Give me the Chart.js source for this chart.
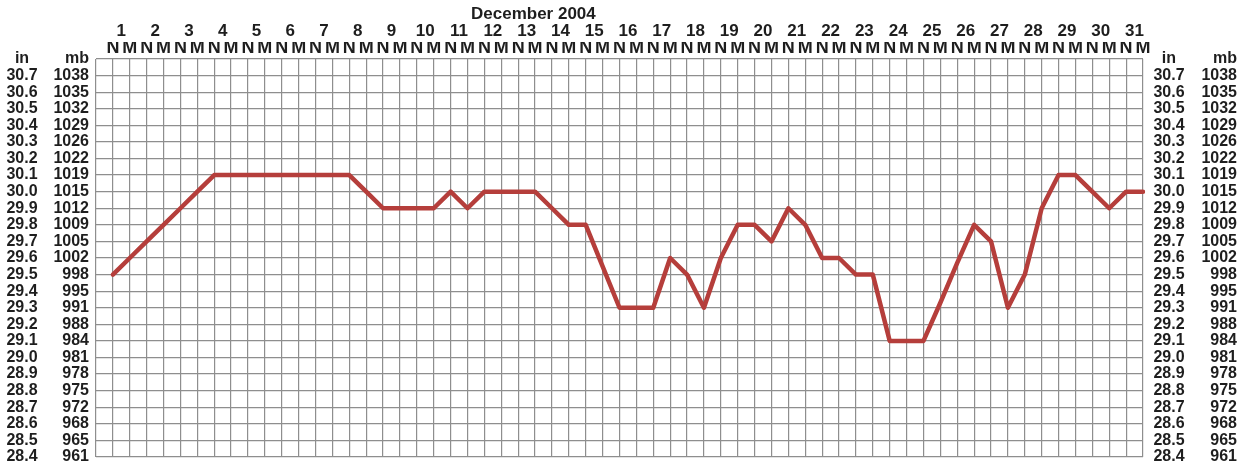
<!DOCTYPE html>
<html>
<head>
<meta charset="utf-8">
<title>Barometer December 2004</title>
<script src="https://cdn.jsdelivr.net/npm/chart.js@4/dist/chart.umd.min.js"></script>
<style>
  html, body { margin: 0; padding: 0; background: #fff; }
  #wrap { width: 1245px; height: 468px; position: relative; }
</style>
</head>
<body>
<div id="wrap"><canvas id="baroChart"></canvas></div>
<script>
// December 2004, readings taken at noon (N) and midnight (M)
const monthName = 'December 2004';
const days = [1, 2, 3, 4, 5, 6, 7, 8, 9, 10, 11, 12, 13, 14, 15, 16,
              17, 18, 19, 20, 21, 22, 23, 24, 25, 26, 27, 28, 29, 30, 31];

// pressure in inches, one value per half day (1 N, 1 M, 2 N, ...)
const pressure = [
  29.5, 29.6, 29.7, 29.8, 29.9, 30.0, 30.1, 30.1,   // 1 - 4
  30.1, 30.1, 30.1, 30.1, 30.1, 30.1, 30.1, 30.0,   // 5 - 8
  29.9, 29.9, 29.9, 29.9, 30.0, 29.9, 30.0, 30.0,   // 9 - 12
  30.0, 30.0, 29.9, 29.8, 29.8, 29.55, 29.3, 29.3,  // 13 - 16
  29.3, 29.6, 29.5, 29.3, 29.6, 29.8, 29.8, 29.7,   // 17 - 20
  29.9, 29.8, 29.6, 29.6, 29.5, 29.5, 29.1, 29.1,   // 21 - 24
  29.1, 29.33, 29.57, 29.8, 29.7, 29.3, 29.5, 29.9, // 25 - 28
  30.1, 30.1, 30.0, 29.9, 30.0, 30.0                // 29 - 31
];

// scale labels, bottom to top; the top line carries the unit
const inchLabels = ['28.4', '28.5', '28.6', '28.7', '28.8', '28.9', '29.0', '29.1',
                    '29.2', '29.3', '29.4', '29.5', '29.6', '29.7', '29.8', '29.9',
                    '30.0', '30.1', '30.2', '30.3', '30.4', '30.5', '30.6', '30.7', 'in'];
const mbLabels = ['961', '965', '968', '972', '975', '978', '981', '984',
                  '988', '991', '995', '998', '1002', '1005', '1009', '1012',
                  '1015', '1019', '1022', '1026', '1029', '1032', '1035', '1038', 'mb'];

const yMin = 28.4;
const yMax = 30.8;
const titleAt = 25.9; // half-day slot the month heading sits over

const halfDays = [''].concat(days.flatMap(() => ['N', 'M']));
const points = [null].concat(pressure);

const fontFamily = '"Liberation Sans", Arial, sans-serif';
Chart.defaults.font.family = fontFamily;
Chart.defaults.font.size = 16;
Chart.defaults.font.weight = 'bold';
Chart.defaults.color = '#1e1e1e';

const gridColor = '#8e8e8e';

function lookup(labels) {
  return (value) => labels[Math.round((value - yMin) * 10)];
}

function fixSize(prop, size) {
  return (scale) => {
    scale[prop] = size;
    scale.paddingTop = 0;
    scale.paddingBottom = 0;
  };
}

function sideAxis(position, weight, labels, crossAlign, padding, width) {
  return {
    axis: 'y',
    type: 'linear',
    position: position,
    weight: weight,
    min: yMin,
    max: yMax,
    grid: { display: false, drawTicks: false },
    border: { display: false },
    ticks: {
      stepSize: 0.1,
      autoSkip: false,
      crossAlign: crossAlign,
      padding: padding,
      callback: lookup(labels)
    },
    afterFit: fixSize('width', width)
  };
}

const monthHeading = {
  id: 'monthHeading',
  afterDraw(chart) {
    const { ctx, scales } = chart;
    ctx.save();
    ctx.font = 'bold 17px ' + fontFamily;
    ctx.fillStyle = '#1e1e1e';
    ctx.textAlign = 'center';
    ctx.textBaseline = 'middle';
    ctx.fillText(monthName, scales.x.getPixelForValue(titleAt), 14);
    ctx.restore();
  }
};

new Chart(document.getElementById('baroChart'), {
  type: 'line',
  data: {
    labels: halfDays,
    datasets: [{
      data: points,
      borderColor: '#b53e3b',
      borderWidth: 4.5,
      borderJoinStyle: 'round',
      borderCapStyle: 'round',
      pointRadius: 0,
      tension: 0,
      xAxisID: 'x',
      yAxisID: 'y'
    }]
  },
  options: {
    responsive: true,
    maintainAspectRatio: false,
    animation: false,
    layout: { padding: { left: 0, right: 8, top: 0, bottom: 11 } },
    plugins: {
      legend: { display: false },
      tooltip: { enabled: false }
    },
    scales: {
      x: {
        type: 'category',
        position: 'top',
        weight: 1,
        offset: false,
        grid: { color: gridColor, lineWidth: 1.2, drawTicks: false },
        border: { display: false },
        ticks: {
          autoSkip: false, maxRotation: 0, minRotation: 0, padding: 0,
          font: { size: 18 }
        },
        afterFit: fixSize('height', 17)
      },
      xDay: {
        axis: 'x',
        type: 'category',
        position: 'top',
        weight: 2,
        labels: days.map(String),
        offset: true,
        grid: { display: false, drawTicks: false },
        border: { display: false },
        ticks: {
          autoSkip: false, maxRotation: 0, minRotation: 0, padding: 0,
          labelOffset: 8.45, font: { size: 17 }
        },
        afterFit: fixSize('height', 42)
      },
      y: Object.assign(sideAxis('left', 1, mbLabels, 'near', 7, 50), {
        grid: { color: gridColor, lineWidth: 1.2, drawTicks: false }
      }),
      yIn: sideAxis('left', 2, inchLabels, 'center', 8.4, 46),
      yInR: sideAxis('right', 1, inchLabels, 'center', 10.4, 50),
      yMbR: sideAxis('right', 2, mbLabels, 'far', 0, 44)
    }
  },
  plugins: [monthHeading]
});
</script>
</body>
</html>
